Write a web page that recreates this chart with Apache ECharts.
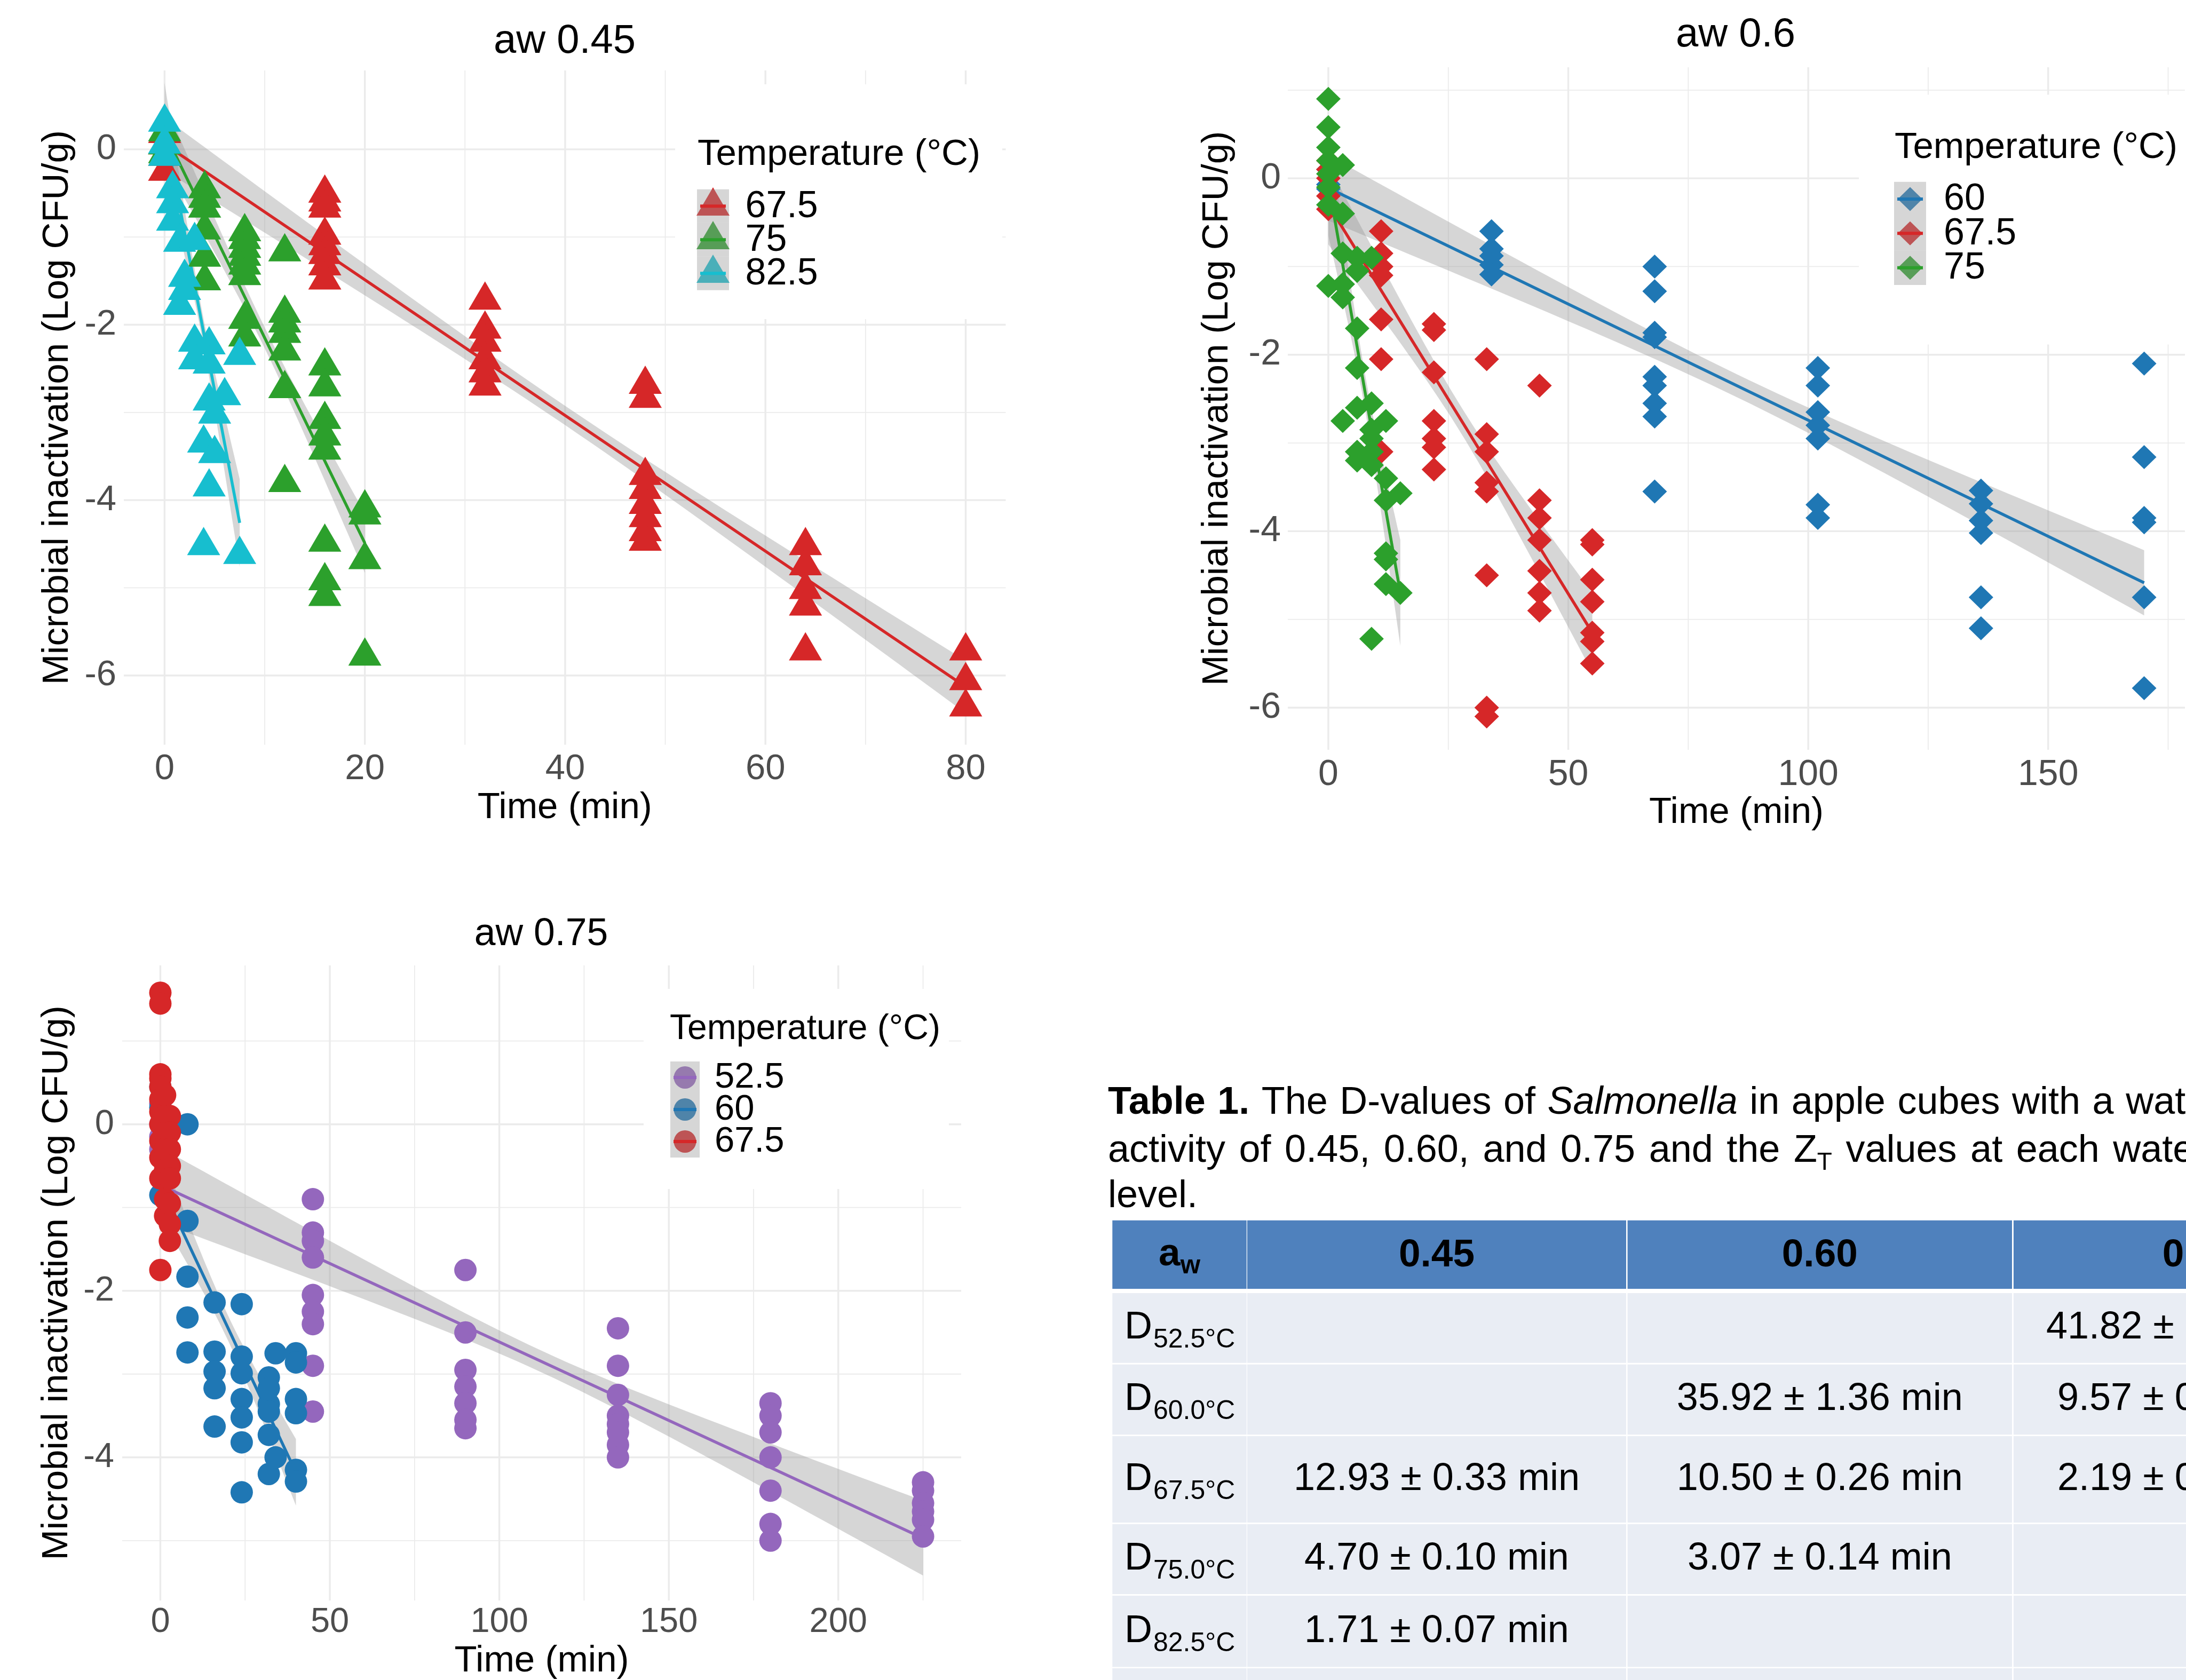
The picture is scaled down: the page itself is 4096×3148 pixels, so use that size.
<!DOCTYPE html>
<html><head><meta charset="utf-8">
<script src="https://cdn.jsdelivr.net/npm/echarts@6/dist/echarts.min.js"></script>
<style>html,body{margin:0;padding:0;background:#fff;overflow:hidden}#c{width:4096px;height:3148px}</style>
</head><body><div id="c"></div>
<script>
// ================= DATA =================
// aw 0.45 : [time (min), log reduction]
const aw045_T675 = [[0,0.18],[0,0.05],[0,-0.08],[0,-0.25],
 [16,-0.5],[16,-0.6],[16,-0.67],[16,-0.98],[16,-1.1],[16,-1.2],[16,-1.33],[16,-1.49],
 [32,-1.72],[32,-2.05],[32,-2.2],[32,-2.4],[32,-2.55],[32,-2.7],
 [48,-2.68],[48,-2.84],[48,-3.72],[48,-3.88],[48,-4.05],[48,-4.2],[48,-4.36],[48,-4.47],
 [64,-4.52],[64,-4.75],[64,-5.02],[64,-5.21],[64,-5.72],
 [80,-5.72],[80,-6.06],[80,-6.36]];
const aw045_T75 = [[0,0.2],[0,0.05],[0,-0.05],
 [4,-0.45],[4,-0.56],[4,-0.67],[4,-0.92],[4,-1.23],[4,-1.5],
 [8,-0.94],[8,-1.03],[8,-1.13],[8,-1.22],[8,-1.32],[8,-1.44],[8,-1.94],[8,-2.14],
 [12,-1.17],[12,-1.87],[12,-1.98],[12,-2.1],[12,-2.3],[12,-2.73],[12,-3.8],
 [16,-2.47],[16,-2.71],[16,-3.08],[16,-3.27],[16,-3.43],[16,-4.48],[16,-4.92],[16,-5.1],
 [20,-4.09],[20,-4.17],[20,-4.68],[20,-5.78]];
const aw045_T825 = [[0,0.31],[0,0.06],[0,-0.08],
 [0.8,-0.45],[0.8,-0.62],[0.8,-0.82],
 [1.5,-1.06],[1.5,-1.78],
 [2,-1.46],[2,-1.61],
 [3,-1.04],[3,-2.2],[3,-2.4],
 [3.9,-3.35],[3.9,-4.52],
 [4.45,-2.23],[4.45,-2.45],[4.45,-2.87],[4.45,-3.85],
 [5,-3.02],[5,-3.47],
 [6,-2.81],
 [7.5,-2.35],[7.5,-4.62]];
// fitted lines [t0, t1, y0, y1] and CI half widths [middle, ends]
const fit045_T675 = [0,80,0.06,-6.13],  ci045_T675 = [0.11,0.3];
const fit045_T75  = [0,20,0.19,-4.49],  ci045_T75  = [0.12,0.34];
const fit045_T825 = [0,7.5,0.26,-4.26], ci045_T825 = [0.15,0.5];

// aw 0.6
const aw06_T60 = [[0,0.1],[0,-0.07],[0,-0.12],
 [34,-0.6],[34,-0.8],[34,-0.88],[34,-0.98],[34,-1.09],
 [68,-1.0],[68,-1.28],[68,-1.75],[68,-1.8],[68,-2.25],[68,-2.35],[68,-2.55],[68,-2.7],[68,-3.55],
 [102,-2.15],[102,-2.35],[102,-2.65],[102,-2.8],[102,-2.95],[102,-3.7],[102,-3.85],
 [136,-3.54],[136,-3.69],[136,-3.88],[136,-4.02],[136,-4.75],[136,-5.1],
 [170,-2.1],[170,-3.16],[170,-3.85],[170,-3.9],[170,-4.75],[170,-5.78]];
const aw06_T675 = [[0,0.2],[0,0.1],[0,0.0],[0,-0.2],[0,-0.35],
 [11,-0.6],[11,-0.85],[11,-1.0],[11,-1.1],[11,-1.6],[11,-2.05],[11,-3.1],
 [22,-1.65],[22,-1.72],[22,-2.2],[22,-2.75],[22,-2.95],[22,-3.05],[22,-3.3],
 [33,-2.05],[33,-2.9],[33,-3.1],[33,-3.45],[33,-3.55],[33,-4.5],[33,-6.0],[33,-6.1],
 [44,-2.35],[44,-3.65],[44,-3.85],[44,-4.1],[44,-4.45],[44,-4.7],[44,-4.9],
 [55,-4.1],[55,-4.15],[55,-4.55],[55,-4.8],[55,-5.15],[55,-5.25],[55,-5.5]];
const aw06_T75 = [[0,0.9],[0,0.58],[0,0.35],[0,0.2],[0,0.05],[0,-0.1],[0,-0.3],[0,-1.22],
 [3,0.15],[3,-0.4],[3,-0.85],[3,-1.2],[3,-1.35],[3,-2.75],
 [6,-0.9],[6,-1.05],[6,-1.7],[6,-2.15],[6,-2.6],[6,-3.1],[6,-3.2],
 [9,-0.9],[9,-2.55],[9,-2.85],[9,-2.95],[9,-3.1],[9,-3.25],[9,-5.22],
 [12,-2.75],[12,-3.4],[12,-3.65],[12,-4.25],[12,-4.32],[12,-4.6],
 [15,-3.57],[15,-4.7]];
const fit06_T60  = [0,170,-0.11,-4.585], ci06_T60  = [0.13,0.37];
const fit06_T675 = [0,55,-0.3,-5.15],    ci06_T675 = [0.15,0.45];
const fit06_T75  = [0,15,-0.05,-4.7],    ci06_T75  = [0.2,0.6];

// aw 0.75
const aw075_T525 = [[0,0.25],[0,0.0],[0,-0.15],[0,-0.3],
 [45,-0.9],[45,-1.3],[45,-1.4],[45,-1.6],[45,-2.05],[45,-2.25],[45,-2.4],[45,-2.9],[45,-3.45],
 [90,-1.75],[90,-2.5],[90,-2.95],[90,-3.15],[90,-3.35],[90,-3.55],[90,-3.65],
 [135,-2.45],[135,-2.9],[135,-3.25],[135,-3.5],[135,-3.6],[135,-3.7],[135,-3.85],[135,-4.0],
 [180,-3.35],[180,-3.5],[180,-3.7],[180,-4.0],[180,-4.4],[180,-4.8],[180,-5.0],
 [225,-4.3],[225,-4.4],[225,-4.55],[225,-4.65],[225,-4.75],[225,-4.95]];
const aw075_T60 = [[0,0.45],[0,0.2],[0,-0.85],
 [8,0.0],[8,-1.16],[8,-1.83],[8,-2.32],[8,-2.74],
 [16,-2.14],[16,-2.73],[16,-2.97],[16,-3.17],[16,-3.63],
 [24,-2.16],[24,-2.79],[24,-2.99],[24,-3.3],[24,-3.52],[24,-3.82],[24,-4.42],
 [32,-3.04],[32,-3.17],[32,-3.36],[32,-3.45],[32,-3.73],[32,-4.2],
 [34,-2.75],[34,-4.0],
 [40,-2.75],[40,-2.86],[40,-3.3],[40,-3.47],[40,-4.15],[40,-4.29]];
const aw075_T675 = [[0,1.58],[0,1.45],[0,0.6],[0,0.55],[0,0.45],[0,0.3],[0,0.15],[0,0.0],[0,-0.2],[0,-0.4],[0,-0.65],[0,-1.75],
 [1.4,0.35],[1.4,0.1],[1.4,-0.1],[1.4,-0.3],[1.4,-0.55],[1.4,-0.9],[1.4,-1.1],
 [2.8,0.1],[2.8,-0.1],[2.8,-0.3],[2.8,-0.5],[2.8,-0.65],[2.8,-0.95],[2.8,-1.2],[2.8,-1.4]];
const fit075_T525 = [0,225,-0.73,-4.97], ci075_T525 = [0.13,0.45];
const fit075_T60  = [0,40,-0.72,-4.18],  ci075_T60  = [0.15,0.4];
const fit075_T675 = [0,2.8,0.43,-0.8],   ci075_T675 = [0.2,0.35];

// ticks
const p1XMajor=[0,20,40,60,80], p1XMinor=[10,30,50,70], p1YMajor=[-6,-4,-2,0], p1YMinor=[-5,-3,-1];
const p2XMajor=[0,50,100,150], p2XMinor=[25,75,125,175], p2YMajor=[-6,-4,-2,0], p2YMinor=[-5,-3,-1,1];
const p3XMajor=[0,50,100,150,200], p3XMinor=[25,75,125,175,225], p3YMajor=[-4,-2,0], p3YMinor=[-5,-3,-1,1];

// legends
const p1Temps=['67.5','75','82.5'], p2Temps=['60','67.5','75'], p3Temps=['52.5','60','67.5'];
const panelTitles=['aw 0.45','aw 0.6','aw 0.75'];

// table
const tblHeader=['0.45','0.60','0.75'];
const tblRowSubs=['52.5°C','60.0°C','67.5°C','75.0°C','82.5°C'];
const tblCol045=['','','12.93 ± 0.33 min','4.70 ± 0.10 min','1.71 ± 0.07 min'];
const tblCol060=['','35.92 ± 1.36 min','10.50 ± 0.26 min','3.07 ± 0.14 min',''];
const tblCol075=['41.82 ±','9.57 ± 0','2.19 ± 0','',''];

// ================= STYLE / LAYOUT =================
const FF="'Liberation Sans', Arial, sans-serif";
const RED='#D62728', GREEN='#2CA02C', CYAN='#17BECF', BLUE='#1F77B4', PURPLE='#9467BD';
const GRIDC='#EBEBEB', BAND='rgba(153,153,153,0.4)';
const TRI={symbol:'triangle', symbolSize:[62,53], symbolOffset:[0,-8.8]};
const DIA={symbol:'diamond', symbolSize:[46,45], symbolOffset:[0,0]};
const CIR={symbol:'circle', symbolSize:42, symbolOffset:[0,0]};

const panels=[
 {grid:{left:232,top:132,width:1652.5,height:1263.5}, xr:[-4.07,84], yr:[-6.79,0.9],
  xMaj:p1XMajor,xMin:p1XMinor,yMaj:p1YMajor,yMin:p1YMinor, tick:67, xm:12.5, ym:14, xng:84, yng:90,
  groups:[[aw045_T675,RED,fit045_T675,ci045_T675],[aw045_T75,GREEN,fit045_T75,ci045_T75],[aw045_T825,CYAN,fit045_T825,ci045_T825]], sym:TRI},
 {grid:{left:2413,top:126,width:1681,height:1279}, xr:[-8.45,178.5], yr:[-6.478,1.259],
  xMaj:p2XMajor,xMin:p2XMinor,yMaj:p2YMajor,yMin:p2YMinor, tick:68, xm:13, ym:13, xng:83.5, yng:98,
  groups:[[aw06_T60,BLUE,fit06_T60,ci06_T60],[aw06_T675,RED,fit06_T675,ci06_T675],[aw06_T75,GREEN,fit06_T75,ci06_T75]], sym:DIA},
 {grid:{left:229,top:1809,width:1572,height:1199}, xr:[-11.25,236.25], yr:[-5.719,1.908],
  xMaj:p3XMajor,xMin:p3XMinor,yMaj:p3YMajor,yMin:p3YMinor, tick:65, xm:8.5, ym:15, xng:79, yng:88,
  groups:[[aw075_T525,PURPLE,fit075_T525,ci075_T525],[aw075_T60,BLUE,fit075_T60,ci075_T60],[aw075_T675,RED,fit075_T675,ci075_T675]], sym:CIR}
];

const _ctx=document.createElement('canvas').getContext('2d');
function tw(t,font){_ctx.font=font;return _ctx.measureText(t).width;}
function txt(x,y,text,font,align,fill,z){
  return {type:'text', x:x, y:y, z:z||10, silent:true,
    style:{text:text, font:font, fill:fill||'#000', align:align||'left', verticalAlign:'middle', textAlign:align||'left', textVerticalAlign:'middle'}};
}
function F(size,w,st){return (st?st+' ':'')+(w?w+' ':'')+size+'px '+FF;}

// ================= SERIES =================
const series=[];
panels.forEach((p,i)=>{
  // grid lines through the axis scales
  series.push({type:'custom', xAxisIndex:i, yAxisIndex:i, z:0, silent:true, animation:false,
    data:[[p.xMaj[0],p.yMaj[0]]],
    renderItem:function(params,api){
      const cs=params.coordSys, ch=[];
      const v=(val,w)=>{const px=api.coord([val,p.yMaj[0]])[0]; ch.push({type:'line',shape:{x1:px,y1:cs.y,x2:px,y2:cs.y+cs.height},style:{stroke:GRIDC,lineWidth:w}});};
      const h=(val,w)=>{const py=api.coord([p.xMaj[0],val])[1]; ch.push({type:'line',shape:{x1:cs.x,y1:py,x2:cs.x+cs.width,y2:py},style:{stroke:GRIDC,lineWidth:w}});};
      p.xMin.forEach(a=>v(a,1.8)); p.yMin.forEach(a=>h(a,1.8));
      p.xMaj.forEach(a=>v(a,3.4)); p.yMaj.forEach(a=>h(a,3.4));
      return {type:'group',children:ch};
    }});
  p.groups.forEach(g=>{
    series.push(Object.assign({type:'scatter', xAxisIndex:i, yAxisIndex:i, data:g[0], silent:true, animation:false, z:2,
      itemStyle:{color:g[1], opacity:1}}, p.sym));
  });
  p.groups.forEach(g=>{
    const f=g[2], ci=g[3];
    series.push({type:'custom', xAxisIndex:i, yAxisIndex:i, z:2, silent:true, animation:false,
      data:[[f[0],f[2]]],
      renderItem:function(params,api){
        const N=60, up=[], lo=[], tm=(f[0]+f[1])/2, half=(f[1]-f[0])/2;
        for(let k=0;k<=N;k++){
          const t=f[0]+(f[1]-f[0])*k/N, y=f[2]+(f[3]-f[2])*k/N, u=(t-tm)/half;
          const hw=Math.sqrt(ci[0]*ci[0]+(ci[1]*ci[1]-ci[0]*ci[0])*u*u);
          up.push(api.coord([t,y+hw])); lo.unshift(api.coord([t,y-hw]));
        }
        return {type:'polygon', shape:{points:up.concat(lo)}, style:{fill:BAND}};
      }});
    series.push({type:'line', xAxisIndex:i, yAxisIndex:i, z:2, silent:true, animation:false, symbol:'none',
      data:[[f[0],f[2]],[f[1],f[3]]], lineStyle:{color:g[1], width:5.5}});
  });
});

// ================= GRAPHIC (titles, legends, table) =================
const G=[];
G.push(txt(1058,78,panelTitles[0],F(76),'center'));
G.push(txt(3252,66,panelTitles[1],F(76),'center'));
G.push(txt(1014,1751,panelTitles[2],F(71.5),'center'));

const legends=[
 {box:[1265,158,613,440], tx:1307, ty:290, ts:69, kx:1306, kw:60, ky:354.8, kh:63, lx:1396.5, ls:70, labels:p1Temps, colors:[RED,GREEN,CYAN], sym:'tri'},
 {box:[3483,177.5,620,468], tx:3550, ty:277, ts:69, kx:3549, kw:60, ky:340.7, kh:64.4, lx:3642, ls:70, labels:p2Temps, colors:[BLUE,RED,GREEN], sym:'dia'},
 {box:[1206,1853,572,375], tx:1255, ty:1929, ts:66, kx:1256, kw:55, ky:1989, kh:60, lx:1339, ls:67, labels:p3Temps, colors:[PURPLE,BLUE,RED], sym:'cir'}
];
legends.forEach(L=>{
  G.push({type:'rect', z:1, silent:true, shape:{x:L.box[0],y:L.box[1],width:L.box[2],height:L.box[3]}, style:{fill:'#FFFFFF'}});
  G.push(txt(L.tx,L.ty,'Temperature (°C)',F(L.ts)));
  L.labels.forEach((lab,j)=>{
    const cx=L.kx+L.kw/2, cy=L.ky+L.kh*(j+0.5), c=L.colors[j];
    if(L.sym==='tri'){
      G.push({type:'polygon', z:5, silent:true, shape:{points:[[cx,cy-35.3],[cx+31,cy+17.7],[cx-31,cy+17.7]]}, style:{fill:c}});
    } else if(L.sym==='dia'){
      G.push({type:'polygon', z:5, silent:true, shape:{points:[[cx,cy-22.5],[cx+23,cy],[cx,cy+22.5],[cx-23,cy]]}, style:{fill:c}});
    } else {
      G.push({type:'circle', z:5, silent:true, shape:{cx:cx,cy:cy,r:21}, style:{fill:c}});
    }
    G.push({type:'rect', z:6, silent:true, shape:{x:L.kx,y:L.ky+L.kh*j,width:L.kw,height:L.kh}, style:{fill:BAND}});
    G.push({type:'line', z:7, silent:true, shape:{x1:L.kx+6,y1:cy,x2:L.kx+L.kw-6,y2:cy}, style:{stroke:c,lineWidth:6}});
    G.push(txt(L.lx,cy+1,lab,F(L.ls)));
  });
});

// table caption (justified lines: extra word spacing)
(function(){
  const x0=2076, fs=72;
  function line(y, segs, extra){
    let x=x0;
    segs.forEach(s=>{
      const parts=s[0].split(' ');
      parts.forEach((w,k)=>{
        if(k>0){ x+=tw(' ',s[1])+extra; }
        if(w.length){ G.push(txt(x,y+(s[2]||0),w,s[1])); x+=tw(w,s[1]); }
      });
    });
  }
  line(2067,[['Table 1.',F(fs,'bold')],[' The D-values of ',F(fs)],['Salmonella',F(fs,null,'italic')],[' in apple cubes with a water',F(fs)]],2.5);
  line(2157,[['activity of 0.45, 0.60, and 0.75 and the Z',F(fs)],['T',F(46),22],[' values at each water activity',F(fs)]],5.5);
  G.push(txt(x0,2242,'level.',F(fs)));
})();

// table body
(function(){
  const colX=[2084.3,2337,3049.6,3772.9], colW=[251.5,710,720.4,700];
  const hy=2286.8, hh=128.2;
  const rowY=[2423,2556.8,2691,2856,2990,3126], rowH=[130.8,131.5,161.9,131,133.5,140];
  colX.forEach((cx,k)=>{
    G.push({type:'rect', z:1, silent:true, shape:{x:cx,y:hy,width:colW[k],height:hh}, style:{fill:'#4F81BD'}});
    rowY.forEach((ry,r)=>{
      G.push({type:'rect', z:1, silent:true, shape:{x:cx,y:ry,width:colW[k],height:rowH[r]}, style:{fill:'#E9EDF4'}});
    });
  });
  // header
  const fa=F(73,'bold'), fw=F(48,'bold');
  const wa=tw('a',fa), ww=tw('w',fw);
  const ax=colX[0]+colW[0]/2-(wa+ww)/2;
  G.push(txt(ax,2351,'a',fa));
  G.push(txt(ax+wa,2373,'w',fw));
  tblHeader.forEach((h,k)=>{ G.push(txt(colX[k+1]+colW[k+1]/2,2353,h,fa,'center')); });
  // rows
  const fb=F(72), fs=F(50);
  tblRowSubs.forEach((s,r)=>{
    const cy=rowY[r]+rowH[r]/2;
    G.push(txt(2107,cy,'D',fb));
    G.push(txt(2107+tw('D',fb)+2,cy+23,s,fs));
    if(tblCol045[r]) G.push(txt(colX[1]+colW[1]/2,cy,tblCol045[r],fb,'center'));
    if(tblCol060[r]) G.push(txt(colX[2]+colW[2]/2,cy,tblCol060[r],fb,'center'));
    if(tblCol075[r]) G.push(txt(r===0?3834:3855,cy,tblCol075[r],fb,'left'));
  });
})();

// ================= OPTION =================
const chart=echarts.init(document.getElementById('c'),null,{renderer:'canvas',width:4096,height:3148});
chart.setOption({
  animation:false,
  backgroundColor:'#FFFFFF',
  textStyle:{fontFamily:FF},
  grid:panels.map(p=>Object.assign({containLabel:false},p.grid)),
  xAxis:panels.map((p,i)=>({gridIndex:i,type:'value',min:p.xr[0],max:p.xr[1],
    axisLine:{show:false},axisTick:{show:false},splitLine:{show:false},minorSplitLine:{show:false},
    axisLabel:{customValues:p.xMaj,color:'#4D4D4D',fontSize:p.tick,fontFamily:FF,margin:p.xm,lineHeight:p.tick},
    name:'Time (min)',nameLocation:'middle',nameGap:p.xng,
    nameTextStyle:{color:'#000',fontSize:69,fontFamily:FF,lineHeight:69}})),
  yAxis:panels.map((p,i)=>({gridIndex:i,type:'value',min:p.yr[0],max:p.yr[1],
    axisLine:{show:false},axisTick:{show:false},splitLine:{show:false},minorSplitLine:{show:false},
    axisLabel:{customValues:p.yMaj,color:'#4D4D4D',fontSize:p.tick,fontFamily:FF,margin:p.ym,lineHeight:p.tick},
    name:'Microbial inactivation (Log CFU/g)',nameLocation:'middle',nameGap:p.yng,
    nameTextStyle:{color:'#000',fontSize:69,fontFamily:FF,lineHeight:69}})),
  series:series,
  graphic:{elements:G}
});
</script>
</body></html>
